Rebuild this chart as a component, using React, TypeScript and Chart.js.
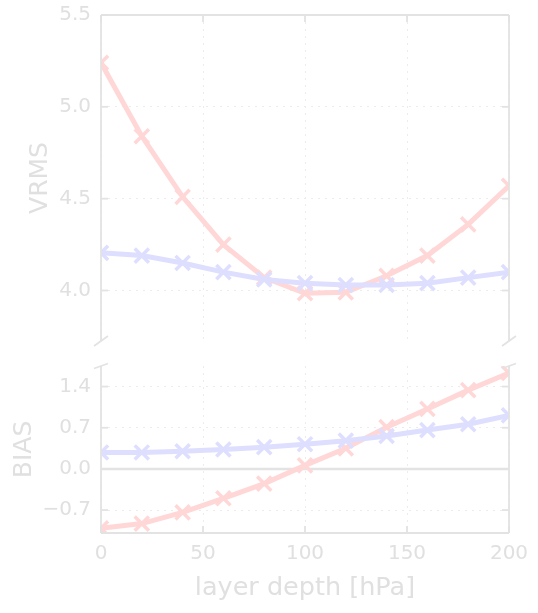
import React, { useEffect, useRef } from "react";
import { Chart, registerables } from "chart.js";

Chart.register(...registerables);

// Layer depth [hPa] sampled every 20 hPa
const depth = [0, 20, 40, 60, 80, 100, 120, 140, 160, 180, 200];

// Upper panel: VRMS
const vrmsRed = [5.24, 4.84, 4.51, 4.25, 4.07, 3.985, 3.99, 4.08, 4.19, 4.36, 4.57];
const vrmsBlue = [4.205, 4.19, 4.15, 4.1, 4.06, 4.04, 4.03, 4.03, 4.04, 4.07, 4.1];

// Lower panel: BIAS
const biasRed = [-1.01, -0.93, -0.74, -0.5, -0.25, 0.06, 0.35, 0.71, 1.02, 1.34, 1.63];
const biasBlue = [0.28, 0.28, 0.3, 0.33, 0.37, 0.42, 0.48, 0.56, 0.66, 0.76, 0.91];

// Tick positions
const depthTicks = [0, 50, 100, 150, 200];
const vrmsTicks = [4.0, 4.5, 5.0, 5.5];
const biasTicks = [-0.7, 0.0, 0.7, 1.4];

const FONT = "'DejaVu Sans', sans-serif";
const TEXT = "#e0e0e0";
const SPINE = "#e3e3e3";
const GRID = "#ececec";
const RED = "#ffd7d7";
const BLUE = "#dedeff";

const W = 538;
// The y-axis reserves 22px above and below its plot area for tick labels,
// so the upper canvas is shifted up and made tall enough to absorb that.
const AXIS_PAD = 22;
const TOP_AREA = { top: 15, bottom: 341 };
const TOP_Y = TOP_AREA.top - AXIS_PAD;
const TOP_H = TOP_AREA.bottom - TOP_Y + AXIS_PAD;
const BOT_TOP = 340;
const BOT_H = 613 - BOT_TOP;
const BOT_AREA = { top: 366, bottom: 533 };

// Spines, inward tick marks, the zero line and the axis-break slashes
const framePlugin = {
  id: "frame",
  beforeDatasetsDraw(chart: any, _args: any, opts: any) {
    if (!opts.zeroLine) return;
    const { left, right } = chart.chartArea;
    const y = chart.scales.y.getPixelForValue(0);
    const ctx = chart.ctx;
    ctx.save();
    ctx.strokeStyle = SPINE;
    ctx.lineWidth = 2.5;
    ctx.beginPath();
    ctx.moveTo(left, y);
    ctx.lineTo(right, y);
    ctx.stroke();
    ctx.restore();
  },
  afterDraw(chart: any, _args: any, opts: any) {
    const { left, right, top, bottom } = chart.chartArea;
    const ctx = chart.ctx;
    const seg = (x1: number, y1: number, x2: number, y2: number) => {
      ctx.beginPath();
      ctx.moveTo(x1, y1);
      ctx.lineTo(x2, y2);
      ctx.stroke();
    };
    ctx.save();
    ctx.strokeStyle = SPINE;
    ctx.lineWidth = 1.8;
    seg(left, top, left, bottom);
    seg(right, top, right, bottom);
    if (opts.topSpine) seg(left, top, right, top);
    if (opts.bottomSpine) seg(left, bottom, right, bottom);

    const T = 7;
    const xs = chart.scales.x;
    const ys = chart.scales.y;
    ys.ticks.forEach((t: any) => {
      const py = ys.getPixelForValue(t.value);
      seg(left, py, left + T, py);
      seg(right, py, right - T, py);
    });
    xs.ticks.forEach((t: any) => {
      const px = xs.getPixelForValue(t.value);
      if (opts.topSpine) seg(px, top, px, top + T);
      if (opts.bottomSpine) seg(px, bottom, px, bottom - T);
    });

    const by = opts.breakAt === "bottom" ? bottom : top;
    const dy = opts.breakDy;
    [left, right].forEach((x: number) => seg(x - 7, by + dy, x + 7, by - dy));
    ctx.restore();
  },
};

function series(xs: number[], ys: number[]) {
  return xs.map((x, i) => ({ x, y: ys[i] }));
}

function lineDataset(data: { x: number; y: number }[], color: string) {
  return {
    data,
    borderColor: color,
    backgroundColor: color,
    borderWidth: 5,
    pointStyle: "crossRot",
    pointRadius: 10,
    pointBorderWidth: 3.5,
    pointBorderColor: color,
    pointBackgroundColor: color,
    tension: 0,
    clip: 0,
  };
}

function yScale(
  min: number,
  max: number,
  ticks: number[],
  title: string,
  width: number
) {
  return {
    type: "linear",
    min,
    max,
    afterBuildTicks: (s: any) => {
      s.ticks = ticks.map((v) => ({ value: v }));
    },
    afterFit: (s: any) => {
      s.width = width;
    },
    ticks: {
      color: TEXT,
      font: { family: FONT, size: 20 },
      padding: 10,
      autoSkip: false,
      callback: (v: any) => {
        const n = Number(v);
        return (n < 0 ? "\u2212" : "") + Math.abs(n).toFixed(1);
      },
    },
    grid: { color: GRID, lineWidth: 1, drawTicks: false },
    border: { display: false, dash: [2, 5] },
    title: {
      display: true,
      text: title,
      color: TEXT,
      font: { family: FONT, size: 25 },
      padding: 0,
    },
  };
}

function xScale(showLabels: boolean, height: number) {
  return {
    type: "linear",
    min: 0,
    max: 200,
    afterBuildTicks: (s: any) => {
      s.ticks = depthTicks.map((v) => ({ value: v }));
    },
    afterFit: (s: any) => {
      s.height = height;
    },
    ticks: {
      display: showLabels,
      color: TEXT,
      font: { family: FONT, size: 20 },
      padding: 9,
      autoSkip: false,
      maxRotation: 0,
      callback: (v: any) => String(v),
    },
    grid: { color: GRID, lineWidth: 1, drawTicks: false },
    border: { display: false, dash: [2, 5] },
    title: {
      display: showLabels,
      text: "layer depth [hPa]",
      color: TEXT,
      font: { family: FONT, size: 25.5 },
      padding: 0,
    },
  };
}

export default function App() {
  const topRef = useRef<HTMLCanvasElement>(null);
  const botRef = useRef<HTMLCanvasElement>(null);

  useEffect(() => {
    const common = {
      animation: false,
      responsive: false,
      maintainAspectRatio: false,
      events: [],
    };

    const topChart = new Chart(topRef.current as HTMLCanvasElement, {
      type: "line",
      data: {
        datasets: [
          lineDataset(series(depth, vrmsBlue), BLUE),
          lineDataset(series(depth, vrmsRed), RED),
        ],
      },
      options: {
        ...common,
        layout: {
          padding: { left: 25, top: AXIS_PAD, right: W - 509, bottom: AXIS_PAD },
        },
        plugins: {
          legend: { display: false },
          tooltip: { enabled: false },
          frame: { topSpine: true, bottomSpine: false, breakAt: "bottom", breakDy: 5 },
        },
        scales: {
          x: xScale(false, 0),
          y: yScale(3.725, 5.5, vrmsTicks, "VRMS", 76),
        },
      } as any,
      plugins: [framePlugin],
    } as any);

    const xAxisH = 71;
    const botChart = new Chart(botRef.current as HTMLCanvasElement, {
      type: "line",
      data: {
        datasets: [
          lineDataset(series(depth, biasBlue), BLUE),
          lineDataset(series(depth, biasRed), RED),
        ],
      },
      options: {
        ...common,
        layout: {
          padding: {
            left: 9,
            top: BOT_AREA.top - BOT_TOP,
            right: W - 509,
            bottom: BOT_H - (BOT_AREA.bottom - BOT_TOP) - xAxisH,
          },
        },
        plugins: {
          legend: { display: false },
          tooltip: { enabled: false },
          frame: { topSpine: false, bottomSpine: true, zeroLine: true, breakAt: "top", breakDy: 2.5 },
        },
        scales: {
          x: xScale(true, xAxisH),
          y: yScale(-1.09, 1.75, biasTicks, "BIAS", 92),
        },
      } as any,
      plugins: [framePlugin],
    } as any);

    return () => {
      topChart.destroy();
      botChart.destroy();
    };
  }, []);

  return (
    <div
      style={{
        position: "fixed",
        left: 0,
        top: 0,
        width: W,
        height: 613,
        overflow: "hidden",
        background: "#ffffff",
      }}
    >
      <canvas
        ref={topRef}
        width={W}
        height={TOP_H}
        style={{ position: "absolute", left: 0, top: TOP_Y, width: W, height: TOP_H }}
      />
      <canvas
        ref={botRef}
        width={W}
        height={BOT_H}
        style={{ position: "absolute", left: 0, top: BOT_TOP, width: W, height: BOT_H }}
      />
    </div>
  );
}
